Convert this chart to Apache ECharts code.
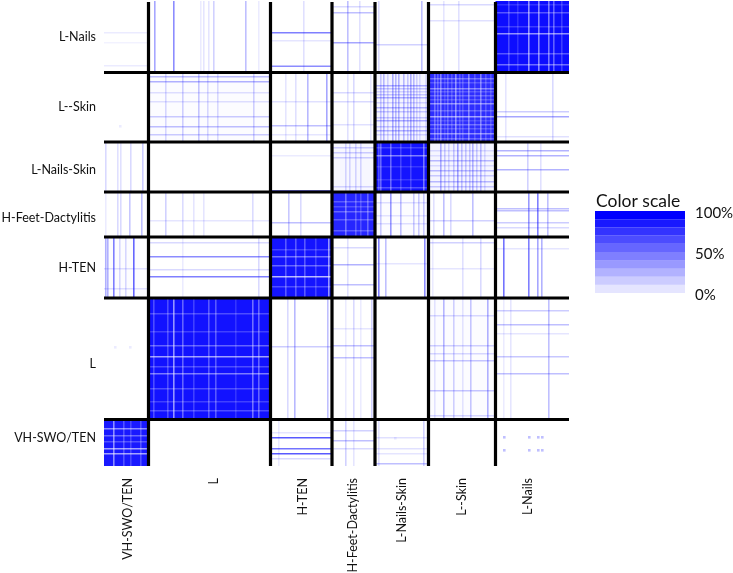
<!DOCTYPE html>
<html><head><meta charset="utf-8">
<style>html,body{margin:0;padding:0;background:#fff}#c{width:733px;height:573px}</style>
<script src="https://cdn.jsdelivr.net/npm/echarts@6/dist/echarts.min.js"></script>
</head><body><div id="c"></div>
<script>
const rowNames = ['L-Nails','L--Skin','L-Nails-Skin','H-Feet-Dactylitis','H-TEN','L','VH-SWO/TEN'];
const colNames = ['VH-SWO/TEN','L','H-TEN','H-Feet-Dactylitis','L-Nails-Skin','L--Skin','L-Nails'];
const sampleCount = 465;
const colBounds = [0,44.5,166.5,228,271,324.5,391.5,465];
const rowBounds = [0,71.5,141,191,236,297,418.5,465];
const colLabelAt = [24,110,199,249,298,358,424];
const rowLabelAt = [36,106,169,217,267,363,437];
// mean similarity (%) of each block, rows top to bottom, columns left to right
const blockMeans = [
 [0,0,0,0,0,0,95],
 [0,1,0,0,4,82,0],
 [0,0,0,3,92,4,0],
 [0,0,0,85,1,0,0],
 [1,0,92,0,0,0,0],
 [0,93,0,0,0,1,0],
 [90,0,0,0,0,0,0]];
// [row block, column sample, %] high-similarity columns
const columnStripes = [
 [0,50,35],[0,69,45],[0,109,18],[0,141,25],[0,99,10],[0,104,10],[0,96,8],[0,154,8],[0,199,12],[0,243,25],[0,255,12],[0,317,25],[0,274,15],[0,354,12],[0,339,10],
 [1,61,15],[1,78,18],[1,94,22],[1,103,15],[1,113,14],[1,149,18],[1,203,28],[1,222,35],[1,191,12],[1,181,10],[1,249,15],[1,243,12],[1,266,10],[1,279,25],[1,288,30],[1,294,28],[1,299,25],[1,306,30],[1,312,15],[1,283,15],[1,276,20],[1,291,25],[1,303,20],[1,309,25],[1,315,12],[1,321,10],[1,448,15],[1,401,10],
 [2,1,15],[2,13,12],[2,16,12],[2,26,15],[2,38,20],[2,241,15],[2,245,15],[2,251,15],[2,256,15],[2,336,30],[2,353,35],[2,368,28],[2,376,25],[2,344,15],[2,361,20],[2,340,18],[2,349,20],[2,357,22],[2,365,20],[2,372,18],[2,380,12],[2,423,18],[2,436,12],
 [3,13,15],[3,16,15],[3,25,22],[3,37,25],[3,1,8],[3,61,18],[3,78,14],[3,89,10],[3,148,14],[3,99,10],[3,184,22],[3,196,15],[3,286,40],[3,276,20],[3,296,25],[3,309,20],[3,314,20],[3,319,20],[3,339,25],[3,346,15],[3,368,25],[3,329,12],[3,424,40],[3,433,50],[3,443,25],
 [4,1,30],[4,3,30],[4,9,50],[4,29,60],[4,21,15],[4,15,15],[4,154,15],[4,78,8],[4,243,12],[4,274,50],[4,281,25],[4,320,45],[4,358,12],[4,376,15],[4,328,8],[4,399,55],[4,424,50],[4,433,35],[4,437,30],
 [5,190,28],[5,223,25],[5,183,15],[5,249,15],[5,267,18],[5,241,8],[5,256,8],[5,339,28],[5,349,18],[5,366,22],[5,383,30],[5,358,10],[5,330,10],[5,444,25],[5,406,10],[5,399,8],
 [6,174,8],[6,241,18],[6,249,10],[6,319,18],[6,274,12]];
// [column block, row sample, %] high-similarity rows
const rowStripes = [
 [0,31,8],[0,64,8],[0,41,5],[2,31,50],[2,64.5,45],[2,39,10],[3,41,35],[3,11,25],[3,5,15],[4,43,18],[5,19,12],[5,3,15],
 [1,75,25],[1,80,30],[1,115,20],[1,125,25],[1,133,20],[1,91,12],[1,100,12],[2,124,25],[2,133,10],[2,100,12],[3,91,15],[3,100,15],[3,123,12],[4,84,30],[4,96,30],[4,106,28],[4,119,30],[4,129,28],[4,90,15],[4,87,20],[4,93,20],[4,110,20],[4,116,20],[4,125,20],[4,133,15],[4,101,15],[6,115,35],[6,110,20],[6,135,12],
 [2,189,50],[2,154,8],[3,146,18],[3,151,18],[3,156,18],[3,185,15],[5,159,25],[5,169,25],[5,180,25],[5,164,12],[5,149,12],[5,154,10],[5,174,18],[5,185,20],[6,149,30],[6,154,30],[6,168,30],
 [1,219,10],[2,221,25],[4,201,12],[4,214,10],[4,222,12],[5,219,18],[6,207,25],[6,209,25],[6,221,20],[6,226,15],
 [0,267,12],[0,287,12],[1,255,45],[1,275,50],[1,241,15],[1,268,15],[3,263,30],[3,283,25],[3,246,15],[4,262,10],[5,241,18],[5,267,10],[6,247,10],
 [2,345,20],[3,344,25],[3,356,25],[3,327,10],[5,314,15],[5,344,18],[5,359,22],[5,352,15],[5,389,22],[5,414,15],[6,309,20],[6,323,25],[6,355,22],[6,372,25],[6,332,10],
 [2,436,65],[2,447,55],[2,452,65],[2,457,15],[2,431,10],[3,429,18],[3,439,25],[3,447,15],[4,462,25],[4,436,12],[4,447,12],[4,452,10]];
// low-similarity lines inside the diagonal blocks: [row block, column sample, % lost]
const columnGaps = [
 [0,424,55],[0,434,50],[0,444,45],[0,404,25],[0,449,35],[0,413,15],[0,457,20],
 [1,336,40],[1,351,45],[1,364,40],[1,376,40],[1,343,25],[1,386,20],[1,330,30],[1,358,20],[1,370,20],[1,333,25],[1,347,20],[1,355,20],[1,381,20],[1,340,15],
 [2,286,35],[2,319,40],[2,276,35],[2,274,25],[2,306,20],[2,296,20],
 [3,241,35],[3,251,25],[3,256,20],[3,263,30],
 [4,224,55],[4,181,30],[4,191,30],[4,200,30],[4,211,20],
 [5,69,55],[5,78,35],[5,63,25],[5,104,30],[5,111,30],[5,148,40],[5,154,35],[5,89,20],[5,131,15],[5,49,25],
 [6,9,50],[6,36,25],[6,19,25],[6,26,20]];
// [column block, row sample, % lost]
const rowGaps = [
 [6,32,55],[6,25,20],[6,11,30],[6,52,30],[6,63,40],[6,3,15],
 [5,87,40],[5,102,45],[5,115,55],[5,132,45],[5,77,30],[5,94,25],[5,123,30],[5,109,25],[5,81,20],[5,90,20],[5,98,20],[5,119,15],[5,127,20],[5,137,25],
 [4,154,45],[4,146,20],[4,186,25],[4,178,15],[4,165,15],
 [3,200,25],[3,210,30],[3,218,25],[3,229,25],[3,205,20],
 [2,275,70],[2,255,40],[2,264,35],[2,248,20],[2,285,25],
 [1,344,35],[1,355,60],[1,372,45],[1,312,25],[1,387,25],[1,409,25],[1,330,20],[1,365,25],[1,400,20],
 [0,427,50],[0,434,35],[0,447,60],[0,452,60],[0,440,25]];
// isolated similar pairs: [column sample, row sample, %]
const spots = [[399,435,25],[399,448,25],[424,435,25],[424,448,25],[433,435,25],[437,435,25],[433,448,25],[437,448,25],[10,345,8],[25,345,8],[15,124,8],[290,436,8]];
const scaleLevels = [10,20,30,40,50,60,70,80,90,100];
const scaleTicks = [0,50,100];

const stripeSize = 1.6, spotSize = 2.6;
const blockRects = [];
blockMeans.forEach((row,r)=>row.forEach((v,c)=>{ if(v>0) blockRects.push([colBounds[c],colBounds[c+1],rowBounds[r],rowBounds[r+1],v]); }));
const vRect = ([r,x,v])=>[x,x+stripeSize,rowBounds[r],rowBounds[r+1],v];
const hRect = ([c,y,v])=>[colBounds[c],colBounds[c+1],y,y+stripeSize,v];
const stripeRects = columnStripes.map(vRect).concat(rowStripes.map(hRect));
const gapRects = columnGaps.map(vRect).concat(rowGaps.map(hRect));
const spotRects = spots.map(([x,y,v])=>[x,x+spotSize,y,y+spotSize,v]);
const legendRects = scaleLevels.map(v=>[0,1,v-10,v,v]);

const rectItem = rgb => (p,api)=>{
  const a = api.coord([api.value(0),api.value(2)]), b = api.coord([api.value(1),api.value(3)]);
  return {type:'rect',shape:{x:Math.min(a[0],b[0]),y:Math.min(a[1],b[1]),width:Math.abs(b[0]-a[0]),height:Math.abs(b[1]-a[1])},
    style:{fill:`rgba(${rgb},${api.value(4)/100})`}};
};
const rectSeries = (data,rgb,extra)=>Object.assign({type:'custom',data,renderItem:rectItem(rgb),encode:{x:[0,1],y:[2,3]},clip:false,silent:true,animation:false},extra||{});
const lineItem = (p,api)=>{
  const a = api.coord([api.value(0),api.value(2)]), b = api.coord([api.value(1),api.value(3)]);
  return {type:'line',shape:{x1:a[0],y1:a[1],x2:b[0],y2:b[1]},style:{stroke:'#000',lineWidth:api.value(4)}};
};
const dividers = colBounds.slice(1,-1).map(x=>[x,x,1,sampleCount,3.2]).concat(rowBounds.slice(1,-1).map(y=>[0,sampleCount,y,y,2.8]));
const font = 'Lato';

echarts.init(document.getElementById('c')).setOption({
  animation:false,
  backgroundColor:'#fff',
  title:{text:'Color scale',left:591,top:187,textStyle:{fontFamily:font,fontSize:17.5,fontWeight:'normal',color:'#111'}},
  grid:[{left:104,top:1,width:465,height:465,outerBoundsMode:'none'},{left:595,top:211,width:90,height:82,outerBoundsMode:'none'}],
  xAxis:[
   {type:'value',min:0,max:sampleCount,position:'bottom',axisLine:{show:false},axisTick:{show:false},splitLine:{show:false},
    axisLabel:{customValues:colLabelAt,rotate:90,margin:12,fontFamily:font,fontSize:12.5,color:'#111',formatter:v=>colNames[colLabelAt.indexOf(v)]}},
   {gridIndex:1,type:'value',min:0,max:1,show:false}],
  yAxis:[
   {type:'value',inverse:true,min:0,max:sampleCount,axisLine:{show:false},axisTick:{show:false},splitLine:{show:false},
    axisLabel:{customValues:rowLabelAt,margin:8,fontFamily:font,fontSize:12.5,color:'#111',formatter:v=>rowNames[rowLabelAt.indexOf(v)]}},
   {gridIndex:1,type:'value',min:0,max:100,position:'right',axisLine:{show:false},axisTick:{show:false},splitLine:{show:false},
    axisLabel:{customValues:scaleTicks,margin:10,verticalAlign:'top',lineHeight:5,fontFamily:font,fontSize:15,color:'#111',formatter:v=>v+'%'}}],
  series:[
   rectSeries(blockRects,'0,0,255'),
   rectSeries(stripeRects,'0,0,255'),
   rectSeries(spotRects,'0,0,255'),
   rectSeries(gapRects,'255,255,255'),
   {type:'custom',data:dividers,renderItem:lineItem,encode:{x:[0,1],y:[2,3]},clip:false,silent:true,animation:false},
   rectSeries(legendRects,'0,0,255',{xAxisIndex:1,yAxisIndex:1})
  ]
});
</script></body></html>
